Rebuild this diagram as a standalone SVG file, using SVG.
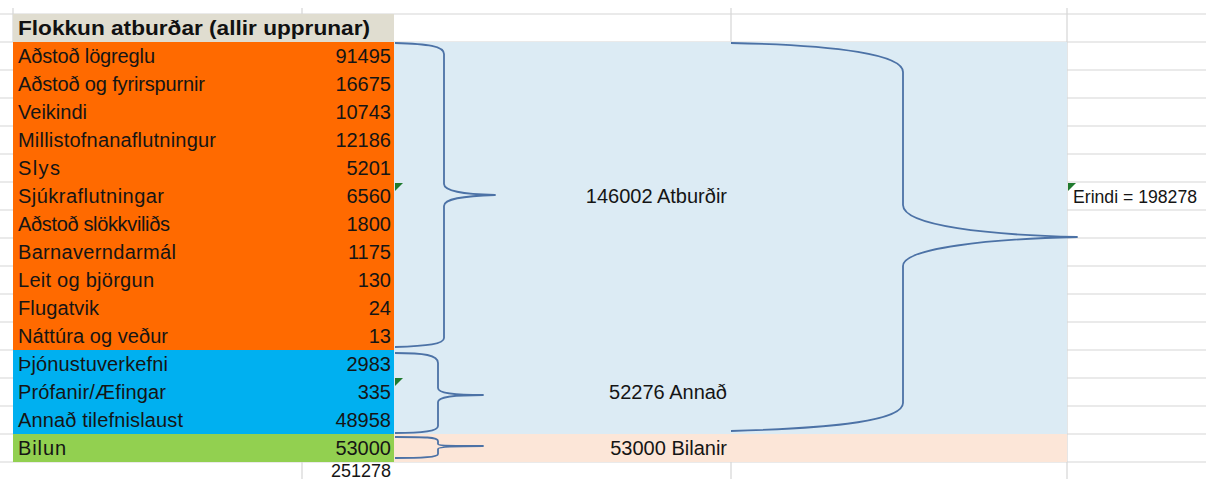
<svg xmlns="http://www.w3.org/2000/svg" width="1206" height="479" viewBox="0 0 1206 479">
<style>
.t{font-family:"Liberation Sans",Arial,sans-serif;font-size:20px;fill:#151515}
.n{font-family:"Liberation Sans",Arial,sans-serif;font-size:20px;fill:#151515;text-anchor:end}
.h{font-family:"Liberation Sans",Arial,sans-serif;font-size:20px;font-weight:bold;fill:#111}
.g{stroke:#d6d6d6;stroke-width:1.2;fill:none}
.br{fill:none;stroke:#4c72a6;stroke-width:1.8;stroke-linejoin:round}
.tri{fill:#1f7a2e}
</style>
<rect width="1206" height="479" fill="#ffffff"/>
<g id="grid">
<path class="g" d="M0,14H1206M0,42H1206M0,70H1206M0,98H1206M0,126H1206M0,154H1206M0,182H1206M0,210H1206M0,238H1206M0,266H1206M0,294H1206M0,322H1206M0,350H1206M0,378H1206M0,406H1206M0,434H1206M0,462H1206"/>
<path class="g" d="M13,8V42M302,8V479M731,8V479M1067,8V479"/>
</g>
<g id="areas">
<rect x="394" y="42" width="673" height="392" fill="#dcebf4"/>
<rect x="394" y="434" width="673" height="28" fill="#fce6d8"/>
</g>
<g id="header"><rect x="13" y="14" width="381" height="28" fill="#e0ddd0"/>
<text class="h" x="18" y="35" textLength="352" lengthAdjust="spacingAndGlyphs">Flokkun atburðar (allir upprunar)</text></g>
<g id="orange">
<rect x="13" y="42" width="381" height="308" fill="#ff6a00"/>
<text class="t" x="18" y="63" textLength="137">Aðstoð lögreglu</text><text class="n" x="391" y="63">91495</text>
<text class="t" x="18" y="91" textLength="187">Aðstoð og fyrirspurnir</text><text class="n" x="391" y="91">16675</text>
<text class="t" x="18" y="119" textLength="69">Veikindi</text><text class="n" x="391" y="119">10743</text>
<text class="t" x="18" y="147" textLength="198">Millistofnanaflutningur</text><text class="n" x="391" y="147">12186</text>
<text class="t" x="18" y="175" textLength="42">Slys</text><text class="n" x="391" y="175">5201</text>
<text class="t" x="18" y="203" textLength="146">Sjúkraflutningar</text><text class="n" x="391" y="203">6560</text>
<text class="t" x="18" y="231" textLength="152">Aðstoð slökkviliðs</text><text class="n" x="391" y="231">1800</text>
<text class="t" x="18" y="259" textLength="158">Barnaverndarmál</text><text class="n" x="391" y="259">1175</text>
<text class="t" x="18" y="287" textLength="136">Leit og björgun</text><text class="n" x="391" y="287">130</text>
<text class="t" x="18" y="315" textLength="81">Flugatvik</text><text class="n" x="391" y="315">24</text>
<text class="t" x="18" y="343" textLength="150">Náttúra og veður</text><text class="n" x="391" y="343">13</text>
</g>
<g id="blue">
<rect x="13" y="350" width="381" height="84" fill="#00b0f0"/>
<text class="t" x="18" y="371" textLength="150">Þjónustuverkefni</text><text class="n" x="391" y="371">2983</text>
<text class="t" x="18" y="399" textLength="148">Prófanir/Æfingar</text><text class="n" x="391" y="399">335</text>
<text class="t" x="18" y="427" textLength="165">Annað tilefnislaust</text><text class="n" x="391" y="427">48958</text>
</g>
<g id="green">
<rect x="13" y="434" width="381" height="28" fill="#92d050"/>
<text class="t" x="18" y="455" textLength="48">Bilun</text><text class="n" x="391" y="455">53000</text>
</g>
<g id="total"><text class="n" x="391" y="477" style="font-size:18px">251278</text></g>
<g id="labels">
<text class="n" x="727" y="203">146002 Atburðir</text>
<text class="n" x="727" y="399">52276 Annað</text>
<text class="n" x="727" y="455">53000 Bilanir</text>
<text class="t" x="1073" y="203" style="font-size:18px" textLength="124" lengthAdjust="spacingAndGlyphs">Erindi = 198278</text>
</g>
<g id="markers">
<polygon class="tri" points="395,183 403,183 395,191"/>
<polygon class="tri" points="395,378 403,378 395,386"/>
<polygon class="tri" points="1068,183 1076,183 1068,191"/>
</g>
<g id="connectors">
<path class="br" d="M395,43 C428,44 444,46 444,54 L444,184 C444,191 462,194 495,195 C462,196 444,199 444,206 L444,338 C444,344 428,346 395,347"/>
<path class="br" d="M395,353 C424,353 438,355 438,363 L438,388 C438,393 452,395 483,395 C452,395 438,397 438,402 L438,426 C438,431 424,433 395,433"/>
<path class="br" d="M395,437 C424,437 438,437 438,441 L438,444 C438,446 452,446 483,446 C452,446 438,447 438,449 L438,454 C438,457 424,458 395,458"/>
<path class="br" d="M731,43 C840,45 903,55 903,72 L903,205 C903,226 990,235 1077,237 C990,239 903,248 903,266 L903,403 C903,420 840,428 731,431"/>
</g>
</svg>
